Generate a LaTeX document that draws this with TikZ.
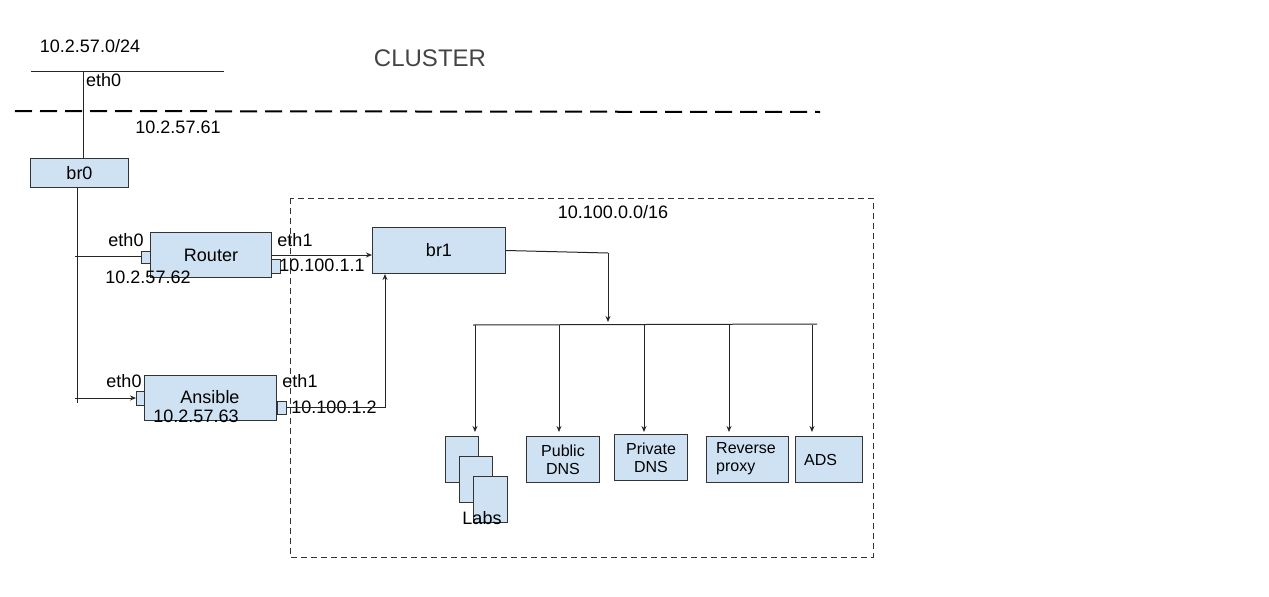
\documentclass[tikz,border=0pt]{standalone}
\usepackage{fontspec}
\setmainfont{Liberation Sans}
\usetikzlibrary{arrows.meta}
\definecolor{boxfill}{HTML}{CFE2F3}
\definecolor{boxline}{HTML}{333333}
\definecolor{titlegrey}{HTML}{444444}
\begin{document}
\begin{tikzpicture}[x=1pt,y=-1pt,
  box/.style={draw=boxline,fill=boxfill,line width=1pt,inner sep=0pt,anchor=north west,align=center},
  port/.style={draw=boxline,fill=boxfill,line width=1pt,inner sep=0pt,anchor=north west},
  lbl/.style={inner sep=0pt,font=\fontsize{18}{20}\selectfont},
  small/.style={font=\fontsize{16}{18}\selectfont},
  big/.style={font=\fontsize{18}{20}\selectfont},
  wire/.style={line width=1pt,draw=black!85},
  arr/.style={wire,-{Stealth[length=6pt,width=5pt]}}]
\useasboundingbox (0,0) rectangle (1269,597);
% title
\node[inner sep=0pt,text=titlegrey,font=\fontsize{24}{26}\selectfont] (title) at (430,58) {CLUSTER};
% outer network
\node[lbl] (net) at (90,46) {10.2.57.0/24};
\coordinate (netL) at (31,71);
\coordinate (netR) at (224,71);
\coordinate (tap) at (83,71);
\draw[wire] (netL) -- (netR);
\node[lbl,anchor=west] (eth0a) at (86,80) {eth0};
% cluster boundary
\coordinate (cbL) at (15,111);
\coordinate (cbR) at (820,112);
\draw[line width=2pt,dash pattern=on 17pt off 8pt] (cbL) -- (cbR);
\node[lbl] (ip61) at (178,127) {10.2.57.61};
% br0
\node[box,big,minimum width=98pt,minimum height=29pt] (br0) at (30,158) {br0};
\draw[wire] (tap) -- (tap |- br0.north);
\coordinate (vb) at (77,403);
\draw[wire] (br0.south -| vb) -- (vb);
% inner network box
\draw[line width=1pt,draw=black!80,dash pattern=on 6pt off 4pt] (290,198) rectangle (873,557);
\node[lbl] (net16) at (613,212) {10.100.0.0/16};
% Router
\node[box,big,minimum width=121pt,minimum height=45pt] (router) at (150,232) {Router};
\node[port,minimum width=9pt,minimum height=12pt] (rp0) at (141,251) {};
\node[port,minimum width=9pt,minimum height=14pt] (rp1) at (271,259) {};
\node[lbl] (r_eth0) at (126,240) {eth0};
\node[lbl] (r_ip0) at (148,277) {10.2.57.62};
\node[lbl] (r_eth1) at (295,240) {eth1};
\node[lbl] (r_ip1) at (322,265) {10.100.1.1};
\coordinate (r0) at (75,256);
\draw[wire] (r0) -- (rp0.west |- r0);
% br1
\node[box,big,minimum width=133pt,minimum height=46pt] (br1) at (372,227) {br1};
\draw[arr] (router.east) -- (router.east -| br1.west);
% Ansible
\node[box,big,minimum width=132pt,minimum height=45pt] (ansible) at (144,375) {};
\node[lbl] (a_name) at (210,397) {Ansible};
\node[port,minimum width=8pt,minimum height=14pt] (ap0) at (136,391) {};
\node[port,minimum width=9pt,minimum height=13pt] (ap1) at (277,401) {};
\node[lbl] (a_ip0) at (196,416) {10.2.57.63};
\node[lbl] (a_eth0) at (124,381) {eth0};
\node[lbl] (a_eth1) at (300,381) {eth1};
\node[lbl] (a_ip1) at (334,407) {10.100.1.2};
\coordinate (a0) at (75,398);
\draw[arr] (a0) -- (ap0.west |- a0);
\coordinate (ab) at (385,407);
\draw[arr] (ap1.east |- ab) -- (ab) -- (ab |- br1.south);
% br1 to services bus
\coordinate (bj) at (608,253);
\coordinate (busL) at (473,325);
\coordinate (busR) at (817,324);
\draw[wire] (br1.east) -- (bj);
\draw[arr] (bj) -- (608,322);
\draw[wire] (busL) -- (busR);
% services
\node[box,minimum width=33pt,minimum height=46pt] (lab1) at (445,436) {};
\node[box,minimum width=33pt,minimum height=46pt] (lab2) at (459,456) {};
\node[box,minimum width=34pt,minimum height=46pt] (lab3) at (473,476) {};
\node[lbl] (labs) at (482,518) {Labs};
\node[box,small,minimum width=73pt,minimum height=46pt] (pub) at (526,436) {Public\\DNS};
\node[box,small,minimum width=73pt,minimum height=46pt] (priv) at (614,434) {Private\\DNS};
\node[box,small,minimum width=82pt,minimum height=46pt] (rev) at (706,436) {};
\node[inner sep=0pt,small,align=left,anchor=west] (revt) at (716,459) {Reverse\\proxy};
\node[box,small,minimum width=67pt,minimum height=46pt] (ads) at (795,436) {};
\node[inner sep=0pt,small,anchor=west] (adst) at (804,460) {ADS};
\draw[arr] (475,325) -- (475,432);
\draw[arr] (559,325) -- (559,432);
\draw[arr] (644,325) -- (644,432);
\draw[arr] (729,325) -- (729,432);
\draw[arr] (812,325) -- (812,432);
\end{tikzpicture}
\end{document}
